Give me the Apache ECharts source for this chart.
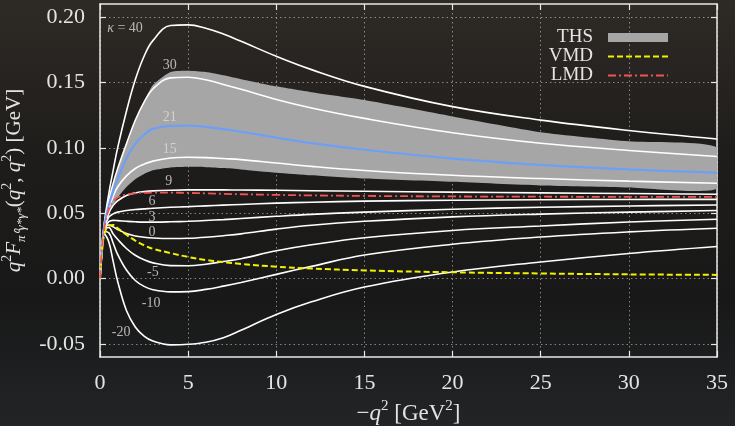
<!DOCTYPE html>
<html><head><meta charset="utf-8">
<script src="https://cdn.jsdelivr.net/npm/echarts@6/dist/echarts.min.js"></script>
<style>html,body{margin:0;padding:0;background:#1d1c1b}#c{width:735px;height:426px}</style>
</head><body><div id="c"></div>
<script>
// -q^2 sample points [GeV^2]
const q2 = [0, 0.1, 0.25, 0.5, 0.75, 1, 1.5, 2, 2.5, 3, 4, 5, 6, 7, 8, 10, 12, 15, 20, 25, 30, 35];

// THS band edges
const thsUpper = [0, 0.020, 0.042, 0.059, 0.072, 0.083, 0.102, 0.120, 0.135, 0.148, 0.1580, 0.1590, 0.1580, 0.1555, 0.1525, 0.1470, 0.1425, 0.1365, 0.1240, 0.1120, 0.1050, 0.1004];
const thsLower = [0, 0.020, 0.039, 0.051, 0.057, 0.062, 0.070, 0.076, 0.080, 0.0828, 0.0850, 0.0855, 0.0852, 0.0845, 0.0835, 0.0810, 0.0790, 0.0765, 0.0740, 0.0712, 0.0697, 0.0686];

// kappa curves
const k40  = [0, 0.020, 0.043, 0.065, 0.083, 0.100, 0.128, 0.152, 0.170, 0.182, 0.1935, 0.1940, 0.1915, 0.1870, 0.1815, 0.1700, 0.1598, 0.1470, 0.1315, 0.1212, 0.1133, 0.1068];
const k30  = [0, 0.020, 0.042, 0.060, 0.073, 0.084, 0.103, 0.121, 0.135, 0.145, 0.1535, 0.1540, 0.1520, 0.1485, 0.1448, 0.1370, 0.1305, 0.1225, 0.1115, 0.1035, 0.0980, 0.0933];
const k21  = [0, 0.020, 0.041, 0.056, 0.067, 0.076, 0.092, 0.103, 0.110, 0.1145, 0.1168, 0.1170, 0.1160, 0.1143, 0.1123, 0.1078, 0.1036, 0.0985, 0.0918, 0.0870, 0.0835, 0.0810];
const k15  = [0, 0.020, 0.040, 0.054, 0.063, 0.070, 0.0785, 0.0842, 0.0875, 0.0898, 0.0922, 0.0928, 0.0925, 0.0918, 0.0910, 0.0884, 0.0858, 0.0827, 0.0790, 0.0765, 0.0745, 0.0729];
const k9   = [0, 0.020, 0.039, 0.050, 0.056, 0.0595, 0.0635, 0.0655, 0.0665, 0.0671, 0.0676, 0.0678, 0.0678, 0.0678, 0.0677, 0.0675, 0.0672, 0.0668, 0.0661, 0.0655, 0.0650, 0.0645];
const k6   = [0, 0.020, 0.0385, 0.047, 0.0495, 0.0508, 0.0520, 0.0528, 0.0533, 0.0538, 0.0545, 0.0550, 0.0556, 0.0562, 0.0567, 0.0577, 0.0584, 0.0592, 0.0599, 0.0603, 0.0605, 0.0606];
const k3   = [0, 0.020, 0.038, 0.0435, 0.0445, 0.0443, 0.0438, 0.0434, 0.0432, 0.0432, 0.0434, 0.0438, 0.0444, 0.0451, 0.0459, 0.0476, 0.0491, 0.0508, 0.0530, 0.0545, 0.0555, 0.0563];
const k0   = [0, 0.020, 0.037, 0.041, 0.0395, 0.0375, 0.0345, 0.0326, 0.0316, 0.0310, 0.0306, 0.0308, 0.0316, 0.0328, 0.0342, 0.0378, 0.0408, 0.0438, 0.0472, 0.0493, 0.0508, 0.0520];
const km5  = [0, 0.020, 0.037, 0.039, 0.034, 0.0300, 0.0230, 0.0178, 0.0143, 0.0120, 0.0099, 0.0098, 0.0110, 0.0130, 0.0152, 0.0212, 0.0258, 0.0312, 0.0368, 0.0402, 0.0433, 0.0454];
const km10 = [0, 0.020, 0.036, 0.035, 0.027, 0.0185, 0.0065, -0.0015, -0.0060, -0.0085, -0.0102, -0.0100, -0.0083, -0.0058, -0.0030, 0.0032, 0.0093, 0.0180, 0.0262, 0.0318, 0.0357, 0.0385];
const km20 = [0, 0.019, 0.034, 0.028, 0.013, -0.002, -0.0245, -0.037, -0.044, -0.0478, -0.0507, -0.0503, -0.0487, -0.0452, -0.0395, -0.0275, -0.0178, -0.0065, 0.0050, 0.0127, 0.0192, 0.0245];

// models
const vmd = [0, 0.019, 0.034, 0.0405, 0.041, 0.0385, 0.0335, 0.029, 0.0255, 0.0228, 0.0195, 0.0165, 0.0142, 0.0126, 0.0112, 0.0091, 0.0077, 0.0062, 0.0048, 0.0039, 0.0032, 0.0028];
const lmd = [0, 0.021, 0.039, 0.053, 0.059, 0.0620, 0.0642, 0.0652, 0.0656, 0.0658, 0.0657, 0.0655, 0.0652, 0.0648, 0.0645, 0.0640, 0.0636, 0.0632, 0.0628, 0.0626, 0.0625, 0.0624];

// tick labels
const xTicks = [0, 5, 10, 15, 20, 25, 30, 35];
const yTicks = [-0.05, 0, 0.05, 0.10, 0.15, 0.20];

// curve annotations (text and anchor in data units)
const kappaNames = ['κ = 40', '30', '21', '15', '9', '6', '3', '0', '-5', '-10', '-20'];
const kappaLabelX = [1.42, 3.95, 3.95, 3.95, 3.9, 2.95, 2.95, 2.95, 3.0, 2.9, 1.2];
const kappaLabelY = [0.1914, 0.1634, 0.1236, 0.0986, 0.0740, 0.0592, 0.0472, 0.0352, 0.0050, -0.0188, -0.0414];

const whiteCurves = [k40, k30, k15, k9, k6, k3, k0, km5, km10, km20];

const FONT = 'Liberation Serif';
const TXT = '#e4e4e4';

function pairs(ys) { return q2.map((x, i) => [x, ys[i]]); }

const lineBase = {
  type: 'line', showSymbol: false, symbol: 'none', smooth: 0.4,
  xAxisIndex: 0, yAxisIndex: 0, silent: true, animation: false
};

const series = [];
series.push({
  type: 'custom', name: 'THS', coordinateSystem: 'cartesian2d', xAxisIndex: 0, yAxisIndex: 0,
  data: [[0, 0]], itemStyle: { color: '#a6a6a6' }, z: 1, animation: false, silent: true,
  renderItem: function (params, api) {
    const pts = [];
    for (let i = 0; i < q2.length; i++) pts.push(api.coord([q2[i], thsUpper[i]]));
    for (let i = q2.length - 1; i >= 0; i--) pts.push(api.coord([q2[i], thsLower[i]]));
    const cs = params.coordSys;
    return {
      type: 'polygon', shape: { points: pts, smooth: 0.2 }, style: { fill: '#a6a6a6' },
      clipPath: { type: 'rect', shape: { x: cs.x, y: cs.y, width: cs.width, height: cs.height } }
    };
  }
});
whiteCurves.forEach((c, i) => {
  series.push(Object.assign({}, lineBase, {
    name: 'k' + i, data: pairs(c), z: 3,
    lineStyle: { color: '#ffffff', width: 1.6 }
  }));
});
series.push(Object.assign({}, lineBase, {
  name: 'k21', data: pairs(k21), z: 3,
  lineStyle: { color: '#6e9ff7', width: 2.2 }
}));
series.push(Object.assign({}, lineBase, {
  name: 'VMD', data: pairs(vmd), z: 4, itemStyle: { color: '#f2f200' },
  lineStyle: { color: '#f2f200', width: 2, type: [6, 3] }
}));
series.push(Object.assign({}, lineBase, {
  name: 'LMD', data: pairs(lmd), z: 4, itemStyle: { color: '#f25454' },
  lineStyle: { color: '#f25454', width: 1.8, type: [8, 3, 2, 3] }
}));
series.push({
  type: 'scatter', name: 'labels', xAxisIndex: 0, yAxisIndex: 0, symbolSize: 0, z: 6, silent: true,
  animation: false,
  data: kappaNames.map((n, i) => ({ name: n, value: [kappaLabelX[i], kappaLabelY[i]] })),
  label: {
    show: true, position: 'inside', color: '#dcdcdc', fontFamily: FONT, fontSize: 14,
    formatter: function (p) {
      return p.name.indexOf('κ') === 0 ? '{k|κ}' + p.name.slice(1) : p.name;
    },
    rich: { k: { fontStyle: 'italic', fontFamily: FONT, fontSize: 14, color: '#dcdcdc' } }
  }
});

function richSet(main, small) {
  return {
    n: { fontFamily: FONT, fontSize: main, color: TXT, lineHeight: main + 7 },
    i: { fontFamily: FONT, fontSize: main, fontStyle: 'italic', color: TXT, lineHeight: main + 7 },
    sup: { fontFamily: FONT, fontSize: small, color: TXT, verticalAlign: 'top', lineHeight: small + 1 },
    sub: { fontFamily: FONT, fontSize: small - 1, fontStyle: 'italic', color: TXT, verticalAlign: 'bottom', lineHeight: small - 2 }
  };
}

const gridLine = { show: true, lineStyle: { color: 'rgba(220,220,220,0.55)', type: [1.5, 3], width: 1 } };
const frame = { show: true, onZero: false, lineStyle: { color: '#e8e8e8', width: 1.5 } };
const tick = { show: true, inside: true, length: 6, lineStyle: { color: '#e8e8e8', width: 1.2 } };
const noSymbol = { color: 'rgba(0,0,0,0)', borderWidth: 0, opacity: 0 };

const option = {
  animation: false,
  backgroundColor: {
    type: 'linear', x: 0, y: 0, x2: 0, y2: 1,
    colorStops: [
      { offset: 0, color: '#2e2a26' },
      { offset: 0.35, color: '#1f1d1b' },
      { offset: 0.7, color: '#181818' },
      { offset: 1, color: '#222426' }
    ]
  },
  grid: { left: 100, right: 18, top: 4, bottom: 69, containLabel: false, outerBoundsMode: 'none' },
  legend: {
    orient: 'vertical', right: 61, top: 23, align: 'right', itemGap: 0,
    itemWidth: 60, itemHeight: 9, selectedMode: false,
    textStyle: { color: TXT, fontFamily: FONT, fontSize: 19, lineHeight: 17.5, padding: [0, 10, 0, 0] },
    data: [
      { name: 'THS', icon: 'rect', itemStyle: { color: '#a6a6a6' } },
      { name: 'VMD', itemStyle: noSymbol },
      { name: 'LMD', itemStyle: noSymbol }
    ]
  },
  xAxis: [
    {
      type: 'value', min: 0, max: 35, interval: 5, position: 'bottom',
      axisLine: frame, axisTick: tick, splitLine: gridLine,
      axisLabel: { color: TXT, fontFamily: FONT, fontSize: 22, margin: 15,
        customValues: xTicks, formatter: v => String(v) },
      name: '{n|−}{i|q}{sup|2}{n| [GeV}{sup|2}{n|]}', nameLocation: 'middle', nameGap: 35,
      nameTextStyle: { rich: richSet(23, 15) }
    },
    {
      type: 'value', min: 0, max: 35, interval: 5, position: 'top',
      axisLine: frame, axisTick: tick, splitLine: { show: false }, axisLabel: { show: false }
    }
  ],
  yAxis: [
    {
      type: 'value', min: -0.06, max: 0.21, position: 'left',
      axisLine: frame,
      axisTick: Object.assign({}, tick, { customValues: yTicks }),
      splitLine: gridLine,
      axisLabel: { color: TXT, fontFamily: FONT, fontSize: 22, margin: 15,
        customValues: yTicks, formatter: v => v.toFixed(2) },
      name: '{i|q}{sup|2}{i|F}{sub|π⁰γ*γ*}{n|(}{i|q}{sup|2}{n|, }{i|q}{sup|2}{n|) [GeV]}',
      nameLocation: 'middle', nameGap: 66,
      nameTextStyle: { rich: richSet(21, 14) }
    },
    {
      type: 'value', min: -0.06, max: 0.21, position: 'right',
      axisLine: frame,
      axisTick: Object.assign({}, tick, { customValues: yTicks }),
      splitLine: { show: false }, axisLabel: { show: false }
    }
  ],
  series: series
};
const chart = echarts.init(document.getElementById('c'), null, { renderer: 'canvas' });
chart.setOption(option);
</script></body></html>
